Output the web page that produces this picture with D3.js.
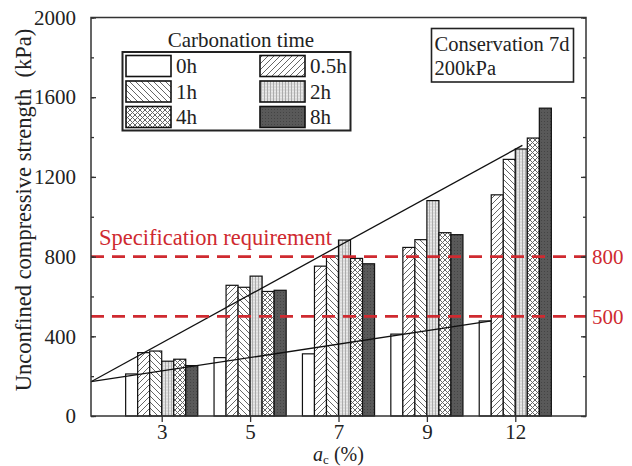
<!DOCTYPE html>
<html>
<head>
<meta charset="utf-8">
<script src="https://cdn.jsdelivr.net/npm/d3@7"></script>
<style>
  body { margin: 0; background: #fff; }
  svg { display: block; }
  text { font-family: "Liberation Serif", "Times New Roman", Times, serif; }
</style>
</head>
<body>
<svg id="chart" width="632" height="466"></svg>
<script>
// Cement content groups and carbonation-time series (unconfined compressive strength, kPa)
const categories = ["3", "5", "7", "9", "12"];
const seriesNames = ["0h", "0.5h", "1h", "2h", "4h", "8h"];
const strength0h  = [211, 293, 312, 411, 477];
const strength05h = [318, 656, 752, 846, 1110];
const strength1h  = [326, 646, 803, 885, 1288];
const strength2h  = [275, 702, 883, 1081, 1340];
const strength4h  = [285, 625, 791, 920, 1395];
const strength8h  = [253, 631, 764, 910, 1545];
const yTicks = [0, 400, 800, 1200, 1600, 2000];
const specLevels = [800, 500];
// Envelope lines, given as [category position, strength]
const upperTrend = [[0.2, 172], [5.08, 1358]];
const lowerTrend = [[0.2, 172], [4.73, 477]];

const series = [strength0h, strength05h, strength1h, strength2h, strength4h, strength8h];

const serif = "Liberation Serif, Times New Roman, Times, serif";
const svg = d3.select("#chart").attr("font-family", serif);
const plotL = 91, plotR = 586, plotT = 17.5, plotB = 416;

const x = d3.scaleLinear().domain([0.2, 5.8]).range([plotL, plotR]);
const y = d3.scaleLinear().domain([0, 2000]).range([plotB, plotT]);
const barW = 0.136; // bar width in category units

// ---- hatch patterns ----
const defs = svg.append("defs");
function pat(id, size, bg, draw) {
  const p = defs.append("pattern").attr("id", id).attr("patternUnits", "userSpaceOnUse")
    .attr("width", size).attr("height", size);
  p.append("rect").attr("width", size).attr("height", size).attr("fill", bg);
  draw(p);
}
pat("p0", 6, "#fff", () => {});
pat("p05", 6, "#fff", p => p.append("path")
  .attr("d", "M0,6L6,0M-1,1L1,-1M5,7L7,5").attr("stroke", "#555").attr("stroke-width", 0.9));
pat("p1", 6, "#fff", p => p.append("path")
  .attr("d", "M0,0L6,6M-1,5L1,7M5,-1L7,1").attr("stroke", "#555").attr("stroke-width", 0.9));
pat("p2", 3, "#dcdcdc", p => {
  p.append("path").attr("d", "M0.5,0V3").attr("stroke", "#a0a0a0").attr("stroke-width", 0.8);
  p.append("rect").attr("x", 1.5).attr("y", 1).attr("width", 1).attr("height", 1).attr("fill", "#f4f4f4");
});
pat("p4", 5, "#fff", p => p.append("path")
  .attr("d", "M0,0L5,5M5,0L0,5").attr("stroke", "#666").attr("stroke-width", 1));
pat("p8", 3, "#595959", p => p.append("rect").attr("x", 1).attr("y", 1).attr("width", 1).attr("height", 1).attr("fill", "#444"));
const fills = ["url(#p0)", "url(#p05)", "url(#p1)", "url(#p2)", "url(#p4)", "url(#p8)"];

// ---- bars ----
const bars = [];
series.forEach((vals, s) => vals.forEach((v, c) => bars.push({ s, c, v })));
svg.append("g").selectAll("rect").data(bars).join("rect")
  .attr("x", d => x(d.c + 1 + (d.s - 3) * barW))
  .attr("y", d => y(d.v))
  .attr("width", d => x(d.c + 1 + (d.s - 2) * barW) - x(d.c + 1 + (d.s - 3) * barW))
  .attr("height", d => y(0) - y(d.v))
  .attr("fill", d => fills[d.s])
  .attr("stroke", "#111").attr("stroke-width", 1.2);

// ---- envelope lines ----
const line = d3.line().x(d => x(d[0])).y(d => y(d[1]));
[upperTrend, lowerTrend].forEach(t => svg.append("path").attr("d", line(t))
  .attr("fill", "none").attr("stroke", "#111").attr("stroke-width", 1.3));

// ---- specification lines ----
const red = "#cf2a30";
specLevels.forEach(v => {
  svg.append("line").attr("x1", plotL).attr("x2", plotR).attr("y1", y(v)).attr("y2", y(v))
    .attr("stroke", red).attr("stroke-width", 2.6).attr("stroke-dasharray", "13,8");
  svg.append("text").attr("x", plotR + 6).attr("y", y(v)).attr("dy", "0.35em")
    .attr("fill", red).attr("font-size", 21).text(v);
});
svg.append("text").attr("x", 99).attr("y", 245).attr("fill", red).attr("font-size", 22.5)
  .text("Specification requirement");

// ---- axes ----
const axisColor = "#333";
const minor = d3.range(0, 2001, 200);
svg.append("g").attr("transform", `translate(${plotL},0)`)
  .call(d3.axisLeft(y).tickValues(minor).tickSizeInner(-3).tickSizeOuter(0).tickFormat(""));
svg.append("g").attr("transform", `translate(${plotL},0)`)
  .call(d3.axisLeft(y).tickValues(yTicks).tickSizeInner(-5).tickSizeOuter(0).tickPadding(15)
    .tickFormat(d3.format("d")))
  .call(g => g.selectAll("text").attr("font-size", 21).attr("fill", "#222"));
svg.append("g").attr("transform", `translate(${plotR},0)`)
  .call(d3.axisRight(y).tickValues(minor).tickSizeInner(-3).tickSizeOuter(0).tickFormat(""));
svg.append("g").attr("transform", `translate(${plotR},0)`)
  .call(d3.axisRight(y).tickValues(yTicks).tickSizeInner(-5).tickSizeOuter(0).tickFormat(""));
svg.append("g").attr("transform", `translate(0,${plotB})`)
  .call(d3.axisBottom(x).tickValues(categories.map((c, i) => i + 1))
    .tickFormat((d, i) => categories[i]).tickSizeInner(6).tickSizeOuter(0).tickPadding(2))
  .call(g => g.selectAll("text").attr("font-size", 21).attr("fill", "#222"));
svg.selectAll(".domain").remove();
svg.selectAll("g").attr("font-family", serif);
svg.selectAll(".tick line").attr("stroke", axisColor).attr("stroke-width", 1.3);
svg.append("rect").attr("x", plotL).attr("y", plotT).attr("width", plotR - plotL).attr("height", plotB - plotT)
  .attr("fill", "none").attr("stroke", axisColor).attr("stroke-width", 1.5);

// ---- axis titles ----
const xt = svg.append("text").attr("x", (plotL + plotR) / 2).attr("y", 461)
  .attr("text-anchor", "middle").attr("font-size", 20).attr("fill", "#222");
xt.append("tspan").attr("font-style", "italic").text("a");
xt.append("tspan").attr("font-size", 13).attr("dy", 2.5).text("c");
xt.append("tspan").attr("dy", -2.5).text(" (%)");
svg.append("text").attr("transform", `translate(31,210) rotate(-90)`)
  .attr("text-anchor", "middle").attr("font-size", 22.5).attr("fill", "#222")
  .attr("xml:space", "preserve").text("Unconfined compressive strength  (kPa)");

// ---- legend ----
const lg = svg.append("g");
lg.append("text").attr("x", 241).attr("y", 47).attr("text-anchor", "middle")
  .attr("font-size", 21).attr("fill", "#222").text("Carbonation time");
lg.append("rect").attr("x", 122.5).attr("y", 52).attr("width", 228).attr("height", 78.5)
  .attr("fill", "#fff").attr("stroke", "#222").attr("stroke-width", 2);
seriesNames.forEach((n, i) => {
  const col = i % 2, row = Math.floor(i / 2);
  const sx = col === 0 ? 126 : 260, sy = 55.5 + row * 25.5;
  lg.append("rect").attr("x", sx).attr("y", sy).attr("width", 45).attr("height", 21)
    .attr("fill", fills[i]).attr("stroke", "#111").attr("stroke-width", 1.6);
  lg.append("text").attr("x", sx + 50).attr("y", sy + 17.5).attr("font-size", 21)
    .attr("fill", "#222").text(n);
});

// ---- condition note ----
svg.append("rect").attr("x", 431.5).attr("y", 28.5).attr("width", 142).attr("height", 53.5)
  .attr("fill", "#fff").attr("stroke", "#222").attr("stroke-width", 1.6);
svg.append("text").attr("x", 434.5).attr("y", 51).attr("font-size", 20.5).attr("fill", "#222").text("Conservation 7d");
svg.append("text").attr("x", 434.5).attr("y", 75).attr("font-size", 20.5).attr("fill", "#222").text("200kPa");
</script>
</body>
</html>
